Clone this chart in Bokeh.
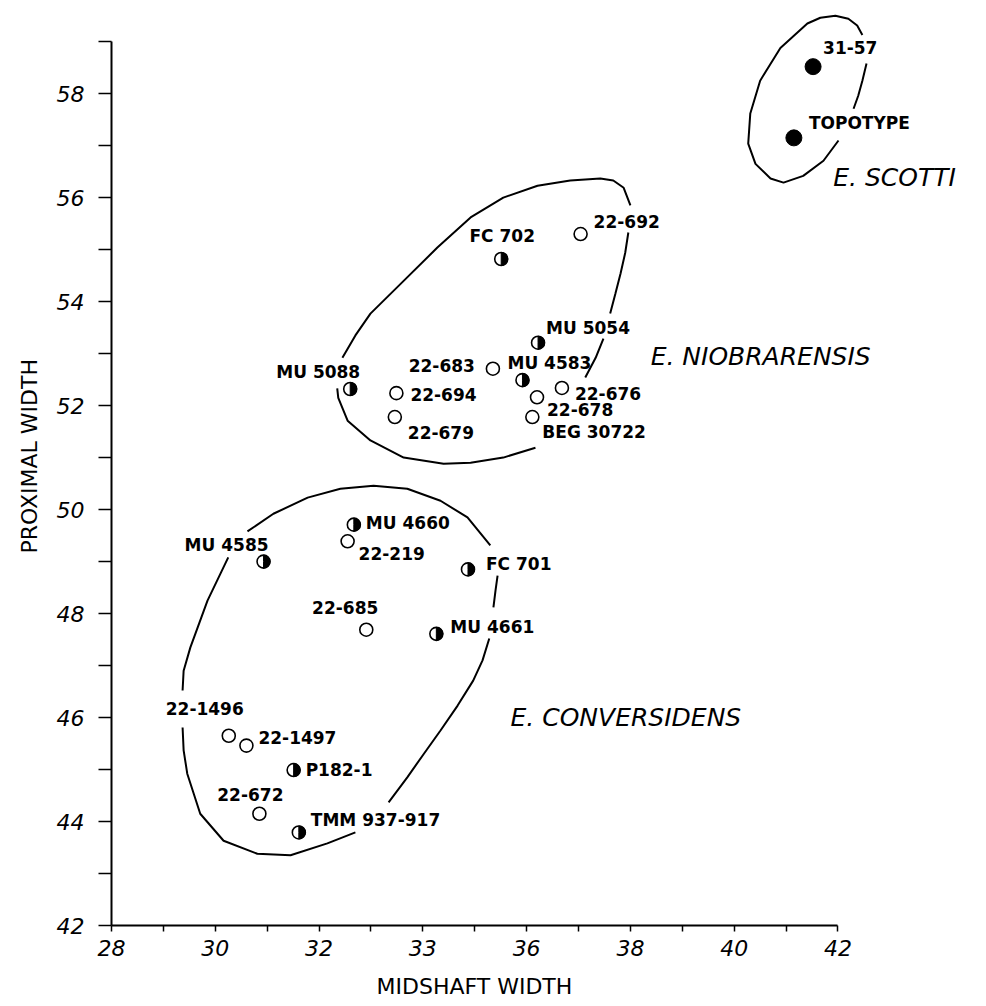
import math
from bokeh.plotting import figure
from bokeh.models import ColumnDataSource, LinearAxis, FixedTicker, Range1d, Title
from bokeh.core.properties import value
from bokeh.embed import file_html
from bokeh.resources import INLINE

# ---------------- data ----------------
specimens = ["31-57", "TOPOTYPE",
             "22-692", "FC 702", "MU 5054", "22-683", "MU 4583", "MU 5088",
             "22-694", "22-676", "22-678", "22-679", "BEG 30722",
             "MU 4660", "22-219", "MU 4585", "FC 701", "22-685", "MU 4661",
             "22-1496", "22-1497", "P182-1", "22-672", "TMM 937-917"]
midshaft = [41.52, 41.15,
            37.04, 35.51, 36.22, 35.35, 35.92, 32.60,
            33.49, 36.68, 36.20, 33.46, 36.11,
            32.67, 32.55, 30.93, 34.87, 32.91, 34.26,
            30.26, 30.60, 31.51, 30.85, 31.61]
proximal = [58.52, 57.15,
            55.30, 54.82, 53.21, 52.71, 52.49, 52.32,
            52.24, 52.34, 52.16, 51.78, 51.78,
            49.71, 49.39, 49.00, 48.85, 47.69, 47.61,
            45.65, 45.46, 44.99, 44.15, 43.79]
symbol = ["filled", "filled",
          "open", "half", "half", "open", "half", "half",
          "open", "open", "open", "open", "open",
          "half", "open", "half", "half", "open", "half",
          "open", "open", "half", "open", "half"]

species_names = ["E. SCOTTI", "E. NIOBRARENSIS", "E. CONVERSIDENS"]

x_tick_values = [28, 30, 32, 34, 36, 38, 40, 42]
x_tick_labels = ["28", "30", "32", "33", "36", "38", "40", "42"]
y_tick_values = [42, 44, 46, 48, 50, 52, 54, 56, 58]
y_tick_labels = ["42", "44", "46", "48", "50", "52", "54", "56", "58"]

# hand-drawn group outlines, broken where labels sit
scotti_outline_x = [[42.47, 42.37, 42.20, 41.95, 41.66, 41.41, 40.89, 40.50, 40.31,
                     40.27, 40.41, 40.70, 40.95, 41.33, 41.72, 42.01],
                    [42.30, 42.39, 42.47, 42.55]]
scotti_outline_y = [[59.13, 59.31, 59.44, 59.50, 59.46, 59.35, 58.88, 58.25, 57.62,
                     57.04, 56.65, 56.37, 56.29, 56.42, 56.71, 57.10],
                    [57.71, 57.96, 58.25, 58.58]]
niobrarensis_outline_x = [[32.45, 32.70, 32.99, 33.63, 34.28, 34.92, 35.55, 36.21,
                           36.84, 37.42, 37.67, 37.87, 38.00],
                          [37.96, 37.90, 37.81, 37.71, 37.61],
                          [37.48, 37.33, 37.13],
                          [36.17, 35.55, 34.92, 34.40, 33.63, 32.99, 32.55, 32.37, 32.35]]
niobrarensis_outline_y = [[52.92, 53.35, 53.77, 54.40, 55.04, 55.62, 56.00, 56.23,
                           56.33, 56.37, 56.33, 56.19, 55.85],
                          [55.33, 54.94, 54.54, 54.15, 53.77],
                          [53.29, 52.92, 52.54],
                          [51.19, 51.00, 50.90, 50.88, 51.00, 51.33, 51.71, 52.15, 52.33]]
conversidens_outline_x = [[30.62, 31.12, 31.78, 32.41, 33.05, 33.70, 34.34, 34.86, 35.30],
                          [35.44, 35.40, 35.36],
                          [35.28, 35.15, 34.97, 34.67, 34.34, 34.01, 33.70, 33.34],
                          [32.70, 32.16, 31.45, 30.81, 30.16, 29.71, 29.46, 29.39, 29.37],
                          [29.37, 29.39, 29.52, 29.85, 30.25]]
conversidens_outline_y = [[49.58, 49.92, 50.23, 50.40, 50.46, 50.40, 50.17, 49.85, 49.31],
                          [48.73, 48.44, 48.12],
                          [47.52, 47.10, 46.71, 46.23, 45.75, 45.29, 44.85, 44.37],
                          [43.79, 43.58, 43.35, 43.38, 43.63, 44.15, 44.92, 45.37, 45.81],
                          [46.52, 46.90, 47.35, 48.25, 49.08]]

# ---------------- layout / styling (not data) ----------------
# label placement per specimen: (x offset px, y offset px, alignment)
label_layout = {
    "31-57": (10, -19, "left"), "TOPOTYPE": (15, -15, "left"),
    "22-692": (13, -13, "left"), "FC 702": (1, -23, "center"),
    "MU 5054": (8, -15, "left"), "22-683": (-18, -3, "right"),
    "MU 4583": (-15, -17, "left"), "MU 5088": (10, -17, "right"),
    "22-694": (14, 1, "left"), "22-676": (13, 6, "left"),
    "22-678": (10, 12, "left"), "22-679": (13, 15, "left"),
    "BEG 30722": (10, 15, "left"), "MU 4660": (12, -2, "left"),
    "22-219": (11, 12, "left"), "MU 4585": (5, -17, "right"),
    "FC 701": (18, -5, "left"), "22-685": (12, -22, "right"),
    "MU 4661": (14, -7, "left"), "22-1496": (15, -27, "right"),
    "22-1497": (12, -8, "left"), "P182-1": (12, 0, "left"),
    "22-672": (-9, -19, "center"), "TMM 937-917": (12, -12, "left"),
}
species_label_pos = {"E. SCOTTI": (41.91, 56.39),
                     "E. NIOBRARENSIS": (38.39, 52.95),
                     "E. CONVERSIDENS": (35.69, 46.01)}

FONT = "DejaVu Sans"

p = figure(width=978, height=1005,
           x_range=Range1d(28, 44.65), y_range=Range1d(42, 59.6),
           x_axis_location=None, y_axis_location=None,
           output_backend="svg", toolbar_location=None,
           min_border_left=111, min_border_right=3,
           min_border_top=10, min_border_bottom=80)
p.outline_line_color = None
p.background_fill_color = "white"
p.border_fill_color = "white"
p.xgrid.grid_line_color = None
p.ygrid.grid_line_color = None

# axes
xaxis = LinearAxis(bounds=(28, 42), ticker=FixedTicker(ticks=list(range(28, 43))))
xaxis.major_label_overrides = {v: "" for v in range(28, 43)}
xaxis.major_label_overrides.update({v: t for v, t in zip(x_tick_values, x_tick_labels)})
yaxis = LinearAxis(bounds=(42, 59), ticker=FixedTicker(ticks=list(range(42, 60))))
yaxis.major_label_overrides = {v: "" for v in range(42, 60)}
yaxis.major_label_overrides.update({v: t for v, t in zip(y_tick_values, y_tick_labels)})
for ax in (xaxis, yaxis):
    ax.axis_line_width = 2
    ax.axis_line_color = "black"
    ax.major_tick_line_color = "black"
    ax.major_tick_line_width = 1.5
    ax.minor_tick_line_color = None
    ax.major_tick_in = 0
    ax.major_label_text_font = FONT
    ax.major_label_text_font_style = "italic"
    ax.major_label_text_font_size = "22px"
    ax.major_label_text_color = "black"
xaxis.major_tick_out = 6
xaxis.major_label_standoff = 8
yaxis.major_tick_out = 13
yaxis.major_label_standoff = 14
yaxis.major_label_orientation = "horizontal"
p.add_layout(xaxis, "below")
p.add_layout(yaxis, "left")

# axis titles placed along the axis extent (a thin blank spacer sits above the x title)
xspacer = Title(text=" ", standoff=0, text_font=FONT, text_font_size="8px")
xtitle = Title(text="MIDSHAFT WIDTH", align="left", offset=265, standoff=4,
               text_font=FONT, text_font_size="22px", text_font_style="normal",
               text_color="black")
ytitle = Title(text="PROXIMAL WIDTH", align="left", offset=372, standoff=24,
               text_font=FONT, text_font_size="22px", text_font_style="normal",
               text_color="black")
p.add_layout(xspacer, "below")
p.add_layout(xtitle, "below")
p.add_layout(ytitle, "left")

# outlines
for ox, oy in ((scotti_outline_x, scotti_outline_y),
               (niobrarensis_outline_x, niobrarensis_outline_y),
               (conversidens_outline_x, conversidens_outline_y)):
    p.multi_line(xs=ox, ys=oy, line_color="black", line_width=2)

# markers
def subset(kind):
    idx = [i for i, s in enumerate(symbol) if s == kind]
    return dict(x=[midshaft[i] for i in idx], y=[proximal[i] for i in idx])

filled = ColumnDataSource(subset("filled"))
half = ColumnDataSource(subset("half"))
opn = ColumnDataSource(subset("open"))
p.scatter("x", "y", source=filled, size=16, marker="circle",
          fill_color="black", line_color="black", line_width=1)
p.scatter("x", "y", source=opn, size=13, marker="circle",
          fill_color="white", line_color="black", line_width=1.6)
p.scatter("x", "y", source=half, size=13, marker="circle",
          fill_color="white", line_color="black", line_width=1.6)
p.wedge("x", "y", source=half, radius=6.5, radius_units="screen",
        start_angle=-math.pi / 2, end_angle=math.pi / 2,
        fill_color="black", line_color="black", line_width=1)

# specimen labels
for align in ("left", "right", "center"):
    rows = [i for i, s in enumerate(specimens) if label_layout[s][2] == align]
    src = ColumnDataSource(dict(
        x=[midshaft[i] for i in rows], y=[proximal[i] for i in rows],
        t=[specimens[i] for i in rows],
        dx=[label_layout[specimens[i]][0] for i in rows],
        dy=[label_layout[specimens[i]][1] for i in rows]))
    p.text("x", "y", text="t", source=src, x_offset="dx", y_offset="dy",
           text_align=align, text_baseline="middle",
           text_font=value(FONT), text_font_style="bold",
           text_font_size="17px", text_color="black")

# species names
sp = ColumnDataSource(dict(
    x=[species_label_pos[n][0] for n in species_names],
    y=[species_label_pos[n][1] for n in species_names],
    t=species_names))
p.text("x", "y", text="t", source=sp, text_align="left", text_baseline="middle",
       text_font=value(FONT), text_font_style="italic",
       text_font_size="25px", text_color="black")

open("out.html", "w").write(file_html(p, INLINE))
